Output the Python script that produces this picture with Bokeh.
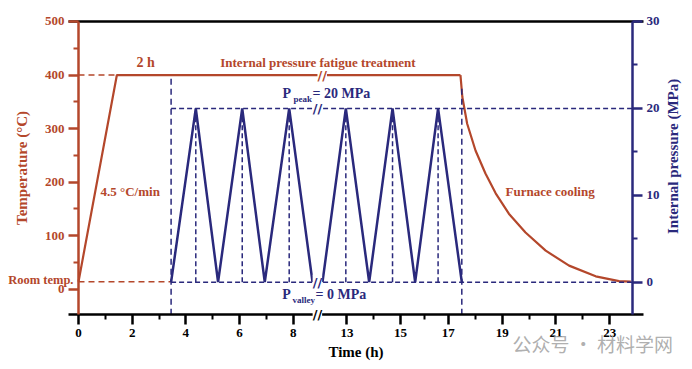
import numpy as np
from bokeh.plotting import figure
from bokeh.models import Range1d, LinearAxis, FixedTicker, CustomJSTickFormatter, Label
from bokeh.core.properties import value
from bokeh.embed import file_html
from bokeh.resources import INLINE

# ---------------- data ----------------
ROOM_TEMP = 14        # °C
HOLD_TEMP = 400       # °C
RAMP_END = 1.43       # h  (4.5 °C/min)
LOAD_START = 3.45     # h  (after 2 h hold)
LOAD_END = 17.5       # h
END_TEMP_AT_LOAD_END = 382

heat_time = [0.0, 1.43, 17.45]
heat_temp = [14, 400, 400]

cool_time = [17.45, 17.52, 17.70, 18.01, 18.38, 18.76, 19.25, 19.87, 20.62, 21.49, 22.48, 23.35, 23.79]
cool_temp = [400, 359, 309, 259, 216, 179, 141, 106, 72, 44, 24, 15, 14]

press_time_a = [3.45, 4.37, 5.20, 6.10, 6.94, 7.85, 8.72]
press_val_a = [0, 20, 0, 20, 0, 20, 0]
press_time_b = [12.09, 12.96, 13.83, 14.70, 15.61, 16.57, 17.50]
press_val_b = [0, 20, 0, 20, 0, 20, 0]
peak_time = [4.37, 6.10, 7.85, 12.96, 14.70, 16.57]

P_PEAK = 20
P_VALLEY = 0

x_tick_hours = [0, 2, 4, 6, 8, 13, 15, 17, 19, 21, 23]
x_tick_labels = ["0", "2", "4", "6", "8", "13", "15", "17", "19", "21", "23"]
x_minor_hours = [1, 3, 5, 7, 14, 16, 18, 20, 22]
temp_ticks = [0, 100, 200, 300, 400, 500]
temp_minor = [50, 150, 250, 350, 450]
press_ticks = [0, 10, 20, 30]
press_minor = [5, 15, 25]

# broken time axis: hours -> axis position
AX_HOURS = [0, 9, 12, 15, 17, 23, 25]
AX_POS = [0, 9, 9, 12, 13.78, 19.79, 21.79]
BREAK_POS = 8.9
BREAK_POS_T = 9.08


def pos(h):
    return [float(v) for v in np.interp(h, AX_HOURS, AX_POS)]


RED = "#B4472B"
NAVY = "#2A297C"
FONT = "Liberation Serif"

# axis extents (plot box) and view window
X_END = 20.64
T_MIN, T_MAX = -47.8, 500
P_MIN, P_MAX = -3.75, 30
XLINE = (-0.37, 21.05)
VIEW_X = (-2.906, 22.876)
VIEW_T = (-149.98, 539.22)
VIEW_P = (-10.046, 32.416)

p = figure(width=692, height=369,
           x_range=Range1d(*VIEW_X), y_range=Range1d(*VIEW_T),
           output_backend="svg", toolbar_location=None,
           x_axis_location=None, y_axis_location=None,
           min_border=0, min_border_left=0, min_border_right=0,
           min_border_top=0, min_border_bottom=0)
p.extra_y_ranges = {"p": Range1d(*VIEW_P)}
p.xgrid.visible = False
p.ygrid.visible = False
p.outline_line_color = None
p.background_fill_color = "white"
p.border_fill_color = "white"

# x axis (bottom)
xa = LinearAxis(fixed_location=T_MIN, bounds=XLINE, axis_label="Time (h)",
                ticker=FixedTicker(ticks=pos(x_tick_hours), minor_ticks=pos(x_minor_hours)))
xa.formatter = CustomJSTickFormatter(args=dict(tp=pos(x_tick_hours), labels=x_tick_labels), code="""
let best = 0, d = Infinity;
for (let i = 0; i < tp.length; i++) { const e = Math.abs(tp[i] - tick); if (e < d) { d = e; best = i; } }
return labels[best];
""")
xa.axis_line_color = "black"
xa.axis_line_width = 2.5
xa.major_tick_line_color = "black"
xa.major_tick_line_width = 2.5
xa.minor_tick_line_color = "black"
xa.minor_tick_line_width = 2
xa.major_tick_out = 10
xa.major_tick_in = 0
xa.minor_tick_out = 5
xa.minor_tick_in = 0
xa.major_label_text_font = FONT
xa.major_label_text_font_style = "bold"
xa.major_label_text_font_size = "13px"
xa.major_label_text_color = "black"
xa.major_label_standoff = 4
xa.axis_label_text_font = FONT
xa.axis_label_text_font_style = "bold"
xa.axis_label_text_font_size = "15px"
xa.axis_label_text_color = "black"
xa.axis_label_standoff = 4
p.add_layout(xa, "below")

# top frame line
ta = LinearAxis(fixed_location=T_MAX, bounds=XLINE, ticker=FixedTicker(ticks=[]))
ta.axis_line_color = "black"
ta.axis_line_width = 2.5
ta.major_tick_out = 0
ta.minor_tick_out = 0
ta.major_label_text_alpha = 0
p.add_layout(ta, "above")

# left / right axes
ya = LinearAxis(fixed_location=0, bounds=(T_MIN, T_MAX), axis_label="Temperature (°C)",
                ticker=FixedTicker(ticks=temp_ticks, minor_ticks=temp_minor))
rax = LinearAxis(y_range_name="p", fixed_location=X_END, bounds=(P_MIN, P_MAX),
                 ticker=FixedTicker(ticks=press_ticks, minor_ticks=press_minor))
for ax, col in [(ya, RED), (rax, NAVY)]:
    ax.axis_line_color = col
    ax.axis_line_width = 2.5
    ax.major_tick_line_color = col
    ax.major_tick_line_width = 2.5
    ax.minor_tick_line_color = col
    ax.minor_tick_line_width = 2
    ax.major_tick_out = 10
    ax.major_tick_in = 0
    ax.minor_tick_out = 5
    ax.minor_tick_in = 0
    ax.major_label_text_font = FONT
    ax.major_label_text_font_style = "bold"
    ax.major_label_text_font_size = "13px"
    ax.major_label_text_color = col
    ax.major_label_standoff = 4
ya.axis_label_text_font = FONT
ya.axis_label_text_font_style = "bold"
ya.axis_label_text_font_size = "15px"
ya.axis_label_text_color = RED
ya.axis_label_standoff = 12
p.add_layout(ya, "left")
p.add_layout(rax, "right")

# ---------- curves ----------
p.line(pos(heat_time), heat_temp, line_color=RED, line_width=2.2)
p.line(pos(cool_time), cool_temp, line_color=RED, line_width=2.2)

# dashed guides
p.line(pos([0, RAMP_END]), [HOLD_TEMP, HOLD_TEMP], line_color=RED, line_width=1.5, line_dash="6 4")
p.line(pos([0, LOAD_START]), [ROOM_TEMP, ROOM_TEMP], line_color=RED, line_width=1.5, line_dash="6 4")
p.line([pos([LOAD_START])[0], X_END], [P_VALLEY, P_VALLEY], y_range_name="p",
       line_color=NAVY, line_width=1.5, line_dash="5 3")
p.line([pos([LOAD_START])[0], X_END], [P_PEAK, P_PEAK], y_range_name="p",
       line_color=NAVY, line_width=1.5, line_dash="5 3")
pk = pos(peak_time)
p.segment(x0=pk, y0=[P_VALLEY] * len(pk), x1=pk, y1=[P_PEAK] * len(pk), y_range_name="p",
          line_color=NAVY, line_width=1.5, line_dash="5 3")
p.segment(x0=pos([LOAD_START]), y0=[T_MIN], x1=pos([LOAD_START]), y1=[HOLD_TEMP],
          line_color=NAVY, line_width=1.5, line_dash="6 4")
p.segment(x0=pos([LOAD_END]), y0=[T_MIN], x1=pos([LOAD_END]), y1=[END_TEMP_AT_LOAD_END],
          line_color=NAVY, line_width=1.5, line_dash="6 4")

# pressure waveform
px = pos(press_time_a) + [float("nan")] + pos(press_time_b)
py = press_val_a + [float("nan")] + press_val_b
p.line(px, py, y_range_name="p", line_color=NAVY, line_width=2.5)

# ---------- break marks ----------
for bx, by, yr, col in [(BREAK_POS_T, HOLD_TEMP, "default", RED),
                        (BREAK_POS, P_PEAK, "p", NAVY),
                        (BREAK_POS, P_VALLEY, "p", NAVY),
                        (BREAK_POS, T_MIN, "default", "black")]:
    p.add_layout(Label(x=bx, y=by, y_range_name=yr, text="//", text_align="center",
                       text_baseline="middle", text_font="DejaVu Sans",
                       text_font_style="bold", text_font_size="13px", text_color=col,
                       background_fill_color="white", background_fill_alpha=1.0))

# ---------- annotations ----------
def txt(x, y, s, col, size="13px", align="left", yr="default"):
    p.text(x=[x], y=[y], text=[s], y_range_name=yr, text_color=col, text_font=value(FONT),
           text_font_style="bold", text_font_size=size, text_align=align, text_baseline="middle")

txt(2.5, 424, "2 h", RED, size="14px", align="center")
txt(8.92, 424, "Internal pressure fatigue treatment", RED, align="center")
txt(0.82, 182.5, "4.5 °C/min", RED)
txt(15.91, 182.5, "Furnace cooling", RED)
txt(7.6, 21.7, "P", NAVY, size="14px", yr="p")
txt(8.01, 21.05, "peak", NAVY, size="9px", yr="p")
txt(8.72, 21.7, "= 20 MPa", NAVY, size="14px", yr="p")
txt(7.59, -1.36, "P", NAVY, size="14px", yr="p")
txt(7.97, -2.05, "valley", NAVY, size="9px", yr="p")
txt(8.83, -1.36, "= 0 MPa", NAVY, size="14px", yr="p")

p.add_layout(Label(x=0, y=17.6, x_offset=-5, text="Room temp.", text_align="right",
                   text_baseline="middle", text_font=FONT, text_font_style="bold",
                   text_font_size="12.5px", text_color=RED))
p.add_layout(Label(x=X_END, y=248, x_offset=41, text="Internal pressure (MPa)", angle=np.pi / 2,
                   text_align="center", text_baseline="middle", text_font=FONT,
                   text_font_style="bold", text_font_size="15px", text_color=NAVY))
p.add_layout(Label(x=16.17, y=-101.4, text="公众号 · 材料学网", text_align="left",
                   text_baseline="middle", text_font="Noto Sans CJK SC",
                   text_font_size="19px", text_color="#9a9a9a", text_alpha=0.8))

open("out.html", "w").write(file_html(p, INLINE))
